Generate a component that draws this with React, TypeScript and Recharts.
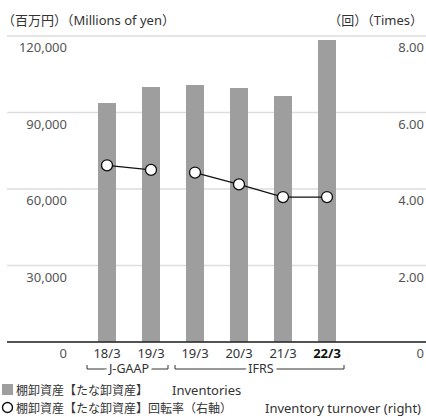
import React from 'react'
import { ComposedChart, Bar, Line, XAxis, YAxis, CartesianGrid } from 'recharts'

const periods = ['18/3', '19/3', '19/3', '20/3', '21/3', '22/3']
const standards = ['J-GAAP', 'J-GAAP', 'IFRS', 'IFRS', 'IFRS', 'IFRS']
const inventories = [93700, 100000, 100800, 99600, 96500, 118400]
const turnoverJgaap = [4.62, 4.5, null, null, null, null]
const turnoverIfrs = [null, null, 4.43, 4.12, 3.79, 3.79]

const leftTicks = [0, 30000, 60000, 90000, 120000]
const rightTicks = [0, 2, 4, 6, 8]

const FONT = '"Noto Sans", "Noto Sans CJK JP", sans-serif'
const JP_FONT = '"Noto Sans CJK JP", sans-serif'
const BAR_COLOR = '#9d9e9d'
const HALF_BAND = 22

const data = periods.map((p, i) => ({
  period: p,
  standard: standards[i],
  inventories: inventories[i],
  jgaap: turnoverJgaap[i],
  ifrs: turnoverIfrs[i],
}))

const LeftTick = (props: any) => (
  <text x={67} y={props.y + 11} textAnchor="end" dominantBaseline="central" fontSize={13} fill="#555" fontFamily={FONT}>
    {Number(props.payload.value).toLocaleString('en-US')}
  </text>
)

const RightTick = (props: any) => (
  <text x={424} y={props.y + 11} textAnchor="end" dominantBaseline="central" fontSize={13} fill="#555" fontFamily={FONT}>
    {props.payload.value === 0 ? '0' : Number(props.payload.value).toFixed(2)}
  </text>
)

const PeriodTick = ({ x, y, payload, index }: any) => {
  const i = index
  const std = standards[i]
  const group = standards.map((s, k) => (s === std ? k : -1)).filter((k) => k >= 0)
  const isFirst = group[0] === i
  const isLast = group[group.length - 1] === i
  const middle = group[Math.floor(group.length / 2)] === i
  const x0 = isFirst ? x - 20 : x - HALF_BAND
  const x1 = isLast ? x + 17 : x + HALF_BAND
  const by = y + 19
  const bold = i === periods.length - 1
  return (
    <g fontFamily={FONT}>
      <text x={x} y={y + 3} textAnchor="middle" dominantBaseline="central" fontSize={13}
        fill={bold ? '#111' : '#333'} fontWeight={bold ? 700 : 400}>
        {payload.value}
      </text>
      <line x1={x0} x2={x1} y1={by} y2={by} stroke="#333" strokeWidth={1} />
      {isFirst && <line x1={x0} x2={x0} y1={by - 4} y2={by} stroke="#333" strokeWidth={1} />}
      {isLast && <line x1={x1} x2={x1} y1={by - 4} y2={by} stroke="#333" strokeWidth={1} />}
      {middle && (
        <text x={group.length % 2 === 0 ? x - HALF_BAND : x} y={by - 1} textAnchor="middle" dominantBaseline="central"
          fontSize={12.5} fill="#333" stroke="#fff" strokeWidth={7} paintOrder="stroke">
          {std}
        </text>
      )}
    </g>
  )
}

const dot = { r: 5.5, fill: '#fff', stroke: '#111', strokeWidth: 1.3 }

export default function App() {
  return (
    <div style={{ position: 'absolute', left: 0, top: 0, width: 426, height: 417, fontFamily: FONT, color: '#333' }}>
      <div style={{ position: 'absolute', left: 2, top: 10, fontSize: 13, whiteSpace: 'nowrap' }}>（百万円）（Millions of yen）</div>
      <div style={{ position: 'absolute', right: 3, top: 10, fontSize: 13, whiteSpace: 'nowrap' }}>（回）（Times）</div>
      <ComposedChart width={426} height={417} data={data} margin={{ top: 36, right: 0, left: 7, bottom: 0 }}>
        <CartesianGrid vertical={false} stroke="#ddd" strokeWidth={1.5} yAxisId="left" />
        <XAxis dataKey="period" allowDuplicatedCategory height={75} padding={{ left: 78, right: 77 }}
          axisLine={{ stroke: '#222', strokeWidth: 1.3 }} tickLine={false} tick={PeriodTick} interval={0} />
        <YAxis yAxisId="left" domain={[0, 120000]} ticks={leftTicks} mirror width={1} axisLine={false} tickLine={false} tick={LeftTick} interval={0} />
        <YAxis yAxisId="right" orientation="right" domain={[0, 8]} ticks={rightTicks} mirror width={1} axisLine={false} tickLine={false} tick={RightTick} interval={0} />
        <Bar yAxisId="left" dataKey="inventories" fill={BAR_COLOR} barSize={18} isAnimationActive={false} />
        <Line yAxisId="right" dataKey="jgaap" stroke="#111" strokeWidth={1.3} dot={dot} connectNulls={false} isAnimationActive={false} />
        <Line yAxisId="right" dataKey="ifrs" stroke="#111" strokeWidth={1.3} dot={dot} connectNulls={false} isAnimationActive={false} />
      </ComposedChart>
      <svg width={426} height={36} style={{ position: 'absolute', left: 0, top: 381 }}>
        <g fill="#333" fontSize={13} fontFamily={FONT}>
          <rect x={2} y={3} width={11} height={11} fill={BAR_COLOR} />
          <text x={16} y={8.5} dominantBaseline="central" fontFamily={JP_FONT} fontSize={12}>棚卸資産【たな卸資産】</text>
          <text x={172} y={8.5} dominantBaseline="central">Inventories</text>
          <circle cx={7.5} cy={26.5} r={5} fill="#fff" stroke="#111" strokeWidth={1.4} />
          <text x={16} y={26.5} dominantBaseline="central" fontFamily={JP_FONT} fontSize={12}>棚卸資産【たな卸資産】回転率（右軸）</text>
          <text x={421} y={26.5} dominantBaseline="central" textAnchor="end">Inventory turnover (right)</text>
        </g>
      </svg>
    </div>
  )
}
